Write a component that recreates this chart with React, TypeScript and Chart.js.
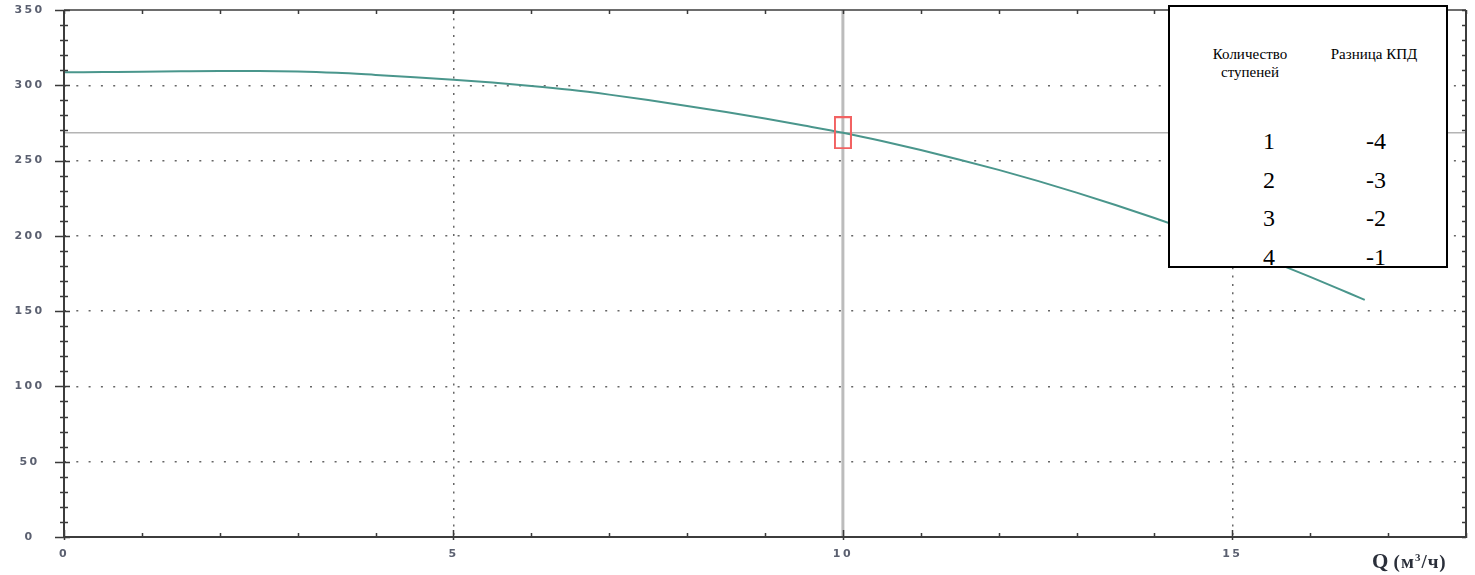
import React, { useEffect, useRef } from "react";
import { Chart, registerables } from "chart.js";

Chart.register(...registerables);

// Pump curve: Q (м³/ч) vs head
const qValues = [0, 0.5, 1, 1.5, 2, 2.5, 3, 3.5, 4, 4.5, 5, 5.5, 6, 6.5, 7, 7.5, 8, 8.5, 9, 9.5, 10, 10.5, 11, 11.5, 12, 12.5, 13, 13.5, 14, 14.5, 15, 15.5, 16, 16.5, 16.7];
const headValues = [308.6, 308.8, 309, 309.3, 309.5, 309.5, 309.2, 308.3, 306.9, 305.4, 303.7, 301.8, 299.6, 297.0, 293.8, 290.2, 286.3, 282.2, 277.9, 273.3, 268.5, 263, 257, 250.6, 243.8, 236.5, 228.7, 220.5, 211.9, 202.8, 193.2, 183.2, 172.8, 161.9, 157.5];

// Operating point (cursor)
const cursorQ = [10];
const cursorH = [268.5];

// Axis definitions
const xTickValues = [0, 5, 10, 15];
const yTickValues = [0, 50, 100, 150, 200, 250, 300, 350];
const xRange = [0, 18];
const yRange = [0, 350];
const xMinorStep = 1;
const yMinorStep = 10;

// Table
const stageCounts = ["1", "2", "3", "4"];
const efficiencyDiff = ["-4", "-3", "-2", "-1"];
const tableHeaders = ["Количество ступеней", "Разница КПД"];
const xAxisTitle = "Q";
const xAxisUnit = ["(м", "3", "/ч)"];

function makeMarker(): HTMLCanvasElement {
  const c = document.createElement("canvas");
  c.width = 18;
  c.height = 33;
  const g = c.getContext("2d")!;
  g.strokeStyle = "#f26262";
  g.lineWidth = 2;
  g.strokeRect(1, 1, 16, 31);
  return c;
}

const labelSpacing = {
  id: "labelSpacing",
  beforeDraw(chart: any) {
    chart.ctx.letterSpacing = "2.4px";
  },
  beforeDatasetsDraw(chart: any) {
    chart.ctx.letterSpacing = "0px";
  },
};

const frameTicks = {
  id: "frameTicks",
  afterDraw(chart: any) {
    const { ctx, chartArea: a, scales } = chart;
    const x = scales.x;
    const y = scales.y;
    ctx.save();
    ctx.letterSpacing = "0px";
    ctx.strokeStyle = "#3a3a3a";
    ctx.lineWidth = 1.5;
    ctx.beginPath();
    for (let v = yRange[0]; v <= yRange[1]; v += yMinorStep) {
      const py = Math.round(y.getPixelForValue(v)) + 0.5;
      const major = yTickValues.includes(v);
      ctx.moveTo(a.left - (major ? 9 : 4), py);
      ctx.lineTo(a.left + (major ? 6 : 4), py);
      ctx.moveTo(a.right - 4, py);
      ctx.lineTo(a.right, py);
    }
    for (let v = xRange[0]; v <= xRange[1]; v += xMinorStep) {
      const px = Math.round(x.getPixelForValue(v)) + 0.5;
      const major = xTickValues.includes(v);
      ctx.moveTo(px, a.bottom - (major ? 7 : 4));
      ctx.lineTo(px, a.bottom + (major ? 3 : 1));
      ctx.moveTo(px, a.top);
      ctx.lineTo(px, a.top + 4);
    }
    ctx.stroke();
    ctx.strokeStyle = "#3c3c3c";
    ctx.lineWidth = 2;
    ctx.beginPath();
    ctx.moveTo(a.left, a.top);
    ctx.lineTo(a.left, a.bottom);
    ctx.lineTo(a.right, a.bottom);
    ctx.lineTo(a.right, a.top);
    ctx.stroke();
    ctx.lineWidth = 1.5;
    ctx.beginPath();
    ctx.moveTo(a.left, a.top);
    ctx.lineTo(a.right, a.top);
    ctx.stroke();
    ctx.restore();
  },
};

export default function App() {
  const ref = useRef<HTMLCanvasElement>(null);

  useEffect(() => {
    document.body.style.margin = "0";
    const canvas = ref.current!;
    const curve = qValues.map((q, i) => ({ x: q, y: headValues[i] }));
    const tickFont = { family: "DejaVu Sans", size: 11, weight: "bold" };
    const chart = new Chart(canvas, {
      type: "line",
      data: {
        datasets: [
          {
            data: [{ x: cursorQ[0], y: cursorH[0] }],
            pointStyle: makeMarker() as any,
            pointRadius: 10,
            showLine: false,
            order: 0,
          },
          {
            data: curve,
            borderColor: "#4a968c",
            borderWidth: 2,
            pointRadius: 0,
            cubicInterpolationMode: "monotone",
            fill: false,
            order: 1,
          },
          {
            data: [
              { x: xRange[0], y: cursorH[0] },
              { x: xRange[1], y: cursorH[0] },
            ],
            borderColor: "#b4b4b4",
            borderWidth: 1.5,
            pointRadius: 0,
            order: 2,
          },
          {
            data: [
              { x: cursorQ[0], y: yRange[0] },
              { x: cursorQ[0], y: yRange[1] },
            ],
            borderColor: "#bcbcbc",
            borderWidth: 3,
            pointRadius: 0,
            order: 3,
          },
        ],
      },
      options: {
        animation: false,
        responsive: false,
        devicePixelRatio: 1,
        events: [],
        layout: { autoPadding: false, padding: { top: 10, right: 9, left: 0, bottom: 0 } },
        plugins: { legend: { display: false }, tooltip: { enabled: false } },
        scales: {
          x: {
            type: "linear",
            min: xRange[0],
            max: xRange[1],
            afterFit: (s: any) => {
              s.height = 38;
              s.paddingLeft = 0;
              s.paddingRight = 0;
            },
            afterBuildTicks: (s: any) => {
              s.ticks = xTickValues.map((v) => ({ value: v }));
            },
            ticks: { padding: 11, maxRotation: 0, color: "#5b6070", font: tickFont },
            grid: {
              drawTicks: false,
              lineWidth: 1.5,
              color: (c: any) => (c.tick && (c.tick.value === xRange[0] || c.tick.value === xRange[1]) ? "transparent" : "#666"),
            },
            border: { display: false, dash: [2, 6.3] },
          },
          y: {
            type: "linear",
            min: yRange[0],
            max: yRange[1],
            afterFit: (s: any) => {
              s.width = 64;
              s.paddingTop = 0;
              s.paddingBottom = 0;
            },
            afterBuildTicks: (s: any) => {
              s.ticks = yTickValues.map((v) => ({ value: v }));
            },
            ticks: { padding: 23, crossAlign: "center", color: "#5b6070", font: tickFont },
            grid: {
              drawTicks: false,
              lineWidth: 1.5,
              color: (c: any) => (c.tick && (c.tick.value === yRange[0] || c.tick.value === yRange[1]) ? "transparent" : "#666"),
            },
            border: { display: false, dash: [2, 10.3] },
          },
        },
      },
      plugins: [labelSpacing, frameTicks],
    } as any);
    return () => chart.destroy();
  }, []);

  const serif = '"Liberation Serif", "Times New Roman", serif';
  const rowTop = 115;
  const rowStep = 38.5;

  return (
    <div style={{ position: "relative", width: 1475, height: 575, background: "#fff" }}>
      <canvas ref={ref} width={1475} height={575} style={{ display: "block" }} />
      <div
        style={{
          position: "absolute",
          left: 1168,
          top: 5,
          width: 276,
          height: 259,
          border: "2px solid #000",
          background: "#fff",
          fontFamily: serif,
          color: "#000",
          overflow: "hidden",
        }}
      >
        <div style={{ position: "absolute", left: 30, width: 100, top: 38, textAlign: "center", fontSize: 15, lineHeight: "18px" }}>
          {tableHeaders[0].split(" ").map((w, i) => (
            <div key={i}>{w}</div>
          ))}
        </div>
        <div style={{ position: "absolute", left: 144, width: 120, top: 38, textAlign: "center", fontSize: 15, lineHeight: "18px" }}>
          {tableHeaders[1]}
        </div>
        {stageCounts.map((s, i) => (
          <div
            key={"s" + i}
            style={{ position: "absolute", left: 59, width: 80, top: rowTop + i * rowStep, textAlign: "center", fontSize: 24, lineHeight: "38px" }}
          >
            {s}
          </div>
        ))}
        {efficiencyDiff.map((s, i) => (
          <div
            key={"e" + i}
            style={{ position: "absolute", left: 166, width: 80, top: rowTop + i * rowStep, textAlign: "center", fontSize: 24, lineHeight: "38px" }}
          >
            {s}
          </div>
        ))}
      </div>
      <div
        style={{
          position: "absolute",
          left: 1372,
          top: 544,
          fontFamily: serif,
          fontWeight: "bold",
          color: "#2a2f3a",
          fontSize: 21,
          lineHeight: "26px",
          whiteSpace: "nowrap",
        }}
      >
        {xAxisTitle}{" "}
        <span style={{ fontSize: 19, letterSpacing: 1 }}>
          {xAxisUnit[0]}
          <sup style={{ fontSize: 11, verticalAlign: 7 }}>{xAxisUnit[1]}</sup>
          {xAxisUnit[2]}
        </span>
      </div>
    </div>
  );
}
